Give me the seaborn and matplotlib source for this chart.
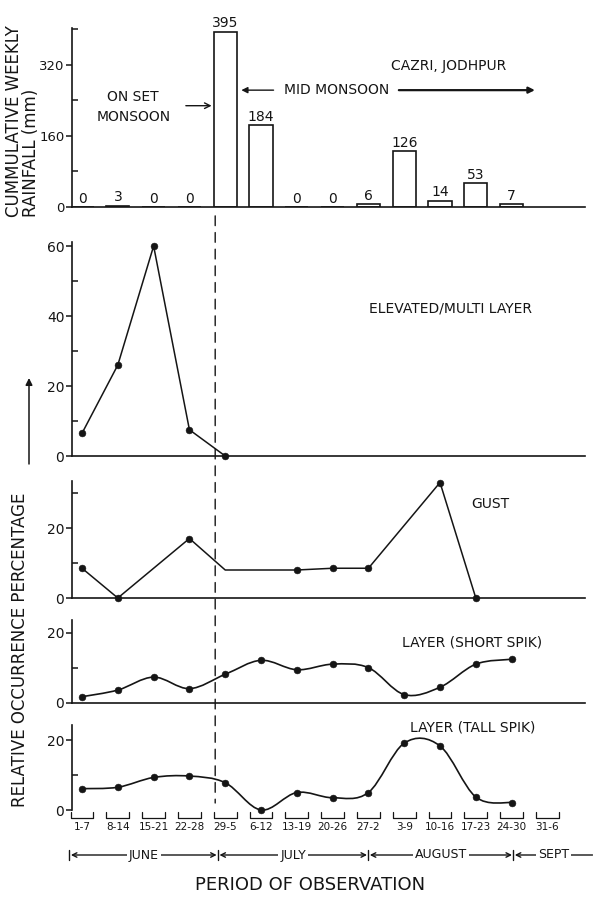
import numpy as np
import pandas as pd
import matplotlib
matplotlib.use("Agg")
import matplotlib.pyplot as plt
from matplotlib.path import Path
from matplotlib.patches import PathPatch, ConnectionPatch
from matplotlib.transforms import blended_transform_factory
import seaborn as sns

# ---------------- data ----------------
weeks = ["1-7", "8-14", "15-21", "22-28", "29-5", "6-12", "13-19",
         "20-26", "27-2", "3-9", "10-16", "17-23", "24-30", "31-6"]
rain_weeks = weeks[:13]
rainfall = [0, 3, 0, 0, 395, 184, 0, 0, 6, 126, 14, 53, 7]
elev_weeks = ["1-7", "8-14", "15-21", "22-28", "29-5"]
elevated = [6.5, 26, 60, 7.5, 0]
gust_weeks = ["1-7", "8-14", "22-28", "29-5", "13-19", "20-26", "27-2", "10-16", "17-23"]
gust = [8.5, 0, 17, 8, 8, 8.5, 8.5, 33, 0]
gust_marked = [True, True, True, False, True, True, True, True, True]
spik_weeks = weeks[:13]
short_spik = [1.8, 3.7, 7.4, 4.1, 8.2, 12.2, 9.5, 11.1, 10.1, 2.4, 4.5, 11.1, 12.5]
tall_spik = [6.1, 6.5, 9.3, 9.7, 7.8, 0, 5.0, 3.5, 5.0, 19.1, 18.3, 3.7, 2.1]
months = ["JUNE", "JULY", "AUGUST", "SEPT"]
month_edges = [-0.35, 3.8, 8.0, 12.05, 14.3]
onset_pos = 3.72

# ---------------- style ----------------
sns.set_style("ticks")
plt.rcParams["font.family"] = ["DejaVu Sans"]
INK = "#151515"
plt.rcParams.update({
    "axes.edgecolor": INK, "axes.linewidth": 1.2,
    "xtick.color": INK, "ytick.color": INK,
    "text.color": INK, "axes.labelcolor": INK,
})

W, H = 593, 906
fig = plt.figure(figsize=(W / 100, H / 100), dpi=100)
fig.patch.set_facecolor("white")

def fx(px):
    return px / W

def fy(px):
    return 1 - px / H

LEFT, RIGHT = 72, 585
XLIM = (-0.28, 14.05)
pos = {w: i for i, w in enumerate(weeks)}

def make_axes(y0_px, ytop, scale):
    h = ytop * scale
    ax = fig.add_axes([fx(LEFT), fy(y0_px), (RIGHT - LEFT) / W, h / H])
    ax.set_ylim(0, ytop)
    ax.set_facecolor("none")
    ax.spines[["top", "right"]].set_visible(False)
    ax.spines["left"].set_bounds(0, ytop)
    return ax

def style_y(ax, major, minor, size=10):
    ax.set_yticks(major)
    ax.set_yticks(minor, minor=True)
    ax.set_yticklabels([str(m) for m in major])
    ax.tick_params(axis="y", which="major", direction="out", length=4, width=1.1,
                   labelsize=size, pad=1.5)
    ax.tick_params(axis="y", which="minor", direction="in", length=4, width=1.1)
    ax.set_xlim(*XLIM)
    ax.set_xlabel("")
    ax.set_ylabel("")

ax1 = make_axes(207, 402, 0.4443)
ax2 = make_axes(456, 61.1, 3.5)
ax3 = make_axes(598, 33.4, 3.5)
ax4 = make_axes(703, 23.7, 3.5)
ax5 = make_axes(810, 24.3, 3.5)

# ---------------- panel 1: rainfall bars ----------------
df_rain = pd.DataFrame({"week": rain_weeks, "rain": rainfall})
sns.barplot(data=df_rain, x="week", y="rain", order=weeks, color="white",
            edgecolor=INK, linewidth=1.2, width=0.65, saturation=1,
            errorbar=None, ax=ax1)
for w, v in zip(rain_weeks, rainfall):
    ax1.annotate(str(v), xy=(pos[w], v), xytext=(0, 1), textcoords="offset points",
                 ha="center", va="bottom", fontsize=10)
style_y(ax1, [0, 160, 320], [80, 240, 400], size=9.5)
ax1.set_xticks([])
ax1.text(10.25, 318, "CAZRI, JODHPUR", ha="center", va="center", fontsize=10)
ax1.text(1.43, 248, "ON SET", ha="center", va="center", fontsize=10)
ax1.text(1.43, 203, "MONSOON", ha="center", va="center", fontsize=10)
ax1.annotate("", xy=(3.62, 228), xytext=(2.9, 228),
             arrowprops=dict(arrowstyle="->", lw=1.0, color=INK, shrinkA=0, shrinkB=0))
ax1.annotate("", xy=(4.45, 263), xytext=(5.35, 263),
             arrowprops=dict(arrowstyle="-|>", lw=1.0, color=INK, shrinkA=0, shrinkB=0,
                             mutation_scale=9))
ax1.text(7.1, 263, "MID MONSOON", ha="center", va="center", fontsize=10)
ax1.annotate("", xy=(12.65, 263), xytext=(8.85, 263),
             arrowprops=dict(arrowstyle="-|>", lw=1.6, color=INK, shrinkA=0, shrinkB=0,
                             mutation_scale=9))

# ---------------- panel 2: elevated / multi layer ----------------
df_elev = pd.DataFrame({"x": [pos[w] for w in elev_weeks], "y": elevated})
sns.lineplot(data=df_elev, x="x", y="y", color=INK, lw=1.1, ax=ax2)
sns.scatterplot(data=df_elev, x="x", y="y", color=INK, s=24, edgecolor=INK,
                zorder=3, clip_on=False, ax=ax2)
style_y(ax2, [0, 20, 40, 60], [10, 30, 50])
ax2.set_xticks([])
ax2.text(10.3, 42, "ELEVATED/MULTI LAYER", ha="center", va="center", fontsize=10)

# ---------------- panel 3: gust ----------------
df_gust = pd.DataFrame({"x": [pos[w] for w in gust_weeks], "y": gust, "m": gust_marked})
sns.lineplot(data=df_gust, x="x", y="y", color=INK, lw=1.1, ax=ax3)
sns.scatterplot(data=df_gust[df_gust["m"]], x="x", y="y", color=INK, s=24,
                edgecolor=INK, zorder=3, clip_on=False, ax=ax3)
style_y(ax3, [0, 20], [10, 30])
ax3.set_xticks([])
ax3.text(11.4, 27, "GUST", ha="center", va="center", fontsize=10)

# ---------------- smooth curve helper ----------------
def smooth_path(xs, ys):
    pts = np.column_stack([xs, ys]).astype(float)
    n = len(pts)
    verts = [pts[0]]
    codes = [Path.MOVETO]
    for i in range(n - 1):
        p0 = pts[i - 1] if i > 0 else pts[i]
        p1, p2 = pts[i], pts[i + 1]
        p3 = pts[i + 2] if i + 2 < n else pts[i + 1]
        verts += [p1 + (p2 - p0) / 6, p2 - (p3 - p1) / 6, p2]
        codes += [Path.CURVE4] * 3
    return Path(verts, codes)

def spik_panel(ax, vals, title, tx, ty):
    xs = [pos[w] for w in spik_weeks]
    ax.add_patch(PathPatch(smooth_path(xs, vals), fill=False, lw=1.2, ec=INK,
                           clip_on=False))
    sns.scatterplot(x=xs, y=vals, color=INK, s=24, edgecolor=INK, zorder=3,
                    clip_on=False, ax=ax)
    style_y(ax, [0, 20], [10])
    ax.text(tx, ty, title, ha="center", va="center", fontsize=10)

spik_panel(ax4, short_spik, "LAYER (SHORT SPIK)", 10.9, 17.2)
ax4.set_xticks([])
spik_panel(ax5, tall_spik, "LAYER (TALL SPIK)", 10.9, 23.6)

# week labels + brackets on bottom panel
ax5.spines["bottom"].set_visible(False)
ax5.set_xticks(range(len(weeks)))
ax5.set_xticklabels(weeks, fontsize=7.5)
ax5.tick_params(axis="x", length=0, pad=9)
for i in range(len(weeks)):
    ax5.plot([i - 0.32, i - 0.32, i + 0.32, i + 0.32], [-0.7, -2.2, -2.2, -0.7],
             color=INK, lw=0.9, clip_on=False)

# ---------------- onset dashed line ----------------
con = ConnectionPatch(xyA=(onset_pos, -20), coordsA=ax1.transData,
                      xyB=(onset_pos, 2), coordsB=ax5.transData,
                      linestyle=(0, (7, 5)), lw=1.0, color=INK)
fig.add_artist(con)

# ---------------- month row ----------------
ym = fy(855)
btr = blended_transform_factory(ax5.transData, fig.transFigure)
for i, m in enumerate(months):
    a, b = month_edges[i], month_edges[i + 1]
    style = "<->" if i < len(months) - 1 else "<-"
    ax5.annotate("", xy=(b, ym), xytext=(a, ym), xycoords=("data", "figure fraction"),
                 textcoords=("data", "figure fraction"), annotation_clip=False,
                 arrowprops=dict(arrowstyle=style, lw=1.0, color=INK,
                                 shrinkA=1, shrinkB=1, mutation_scale=8))
    ax5.text((a + b) / 2, ym, m, transform=btr, ha="center", va="center",
             fontsize=9, bbox=dict(fc="white", ec="none", pad=1.5))
for e in month_edges[:-1]:
    ax5.plot([e, e], [ym - 0.006, ym + 0.006], transform=btr, color=INK, lw=1.0,
             clip_on=False)

fig.text(fx(310), fy(885), "PERIOD OF OBSERVATION", ha="center", va="center",
         fontsize=13)

# ---------------- y-axis titles ----------------
fig.text(fx(14), fy(217), "CUMMULATIVE WEEKLY", rotation=90, ha="center",
         va="bottom", fontsize=12)
fig.text(fx(31), fy(217), "RAINFALL (mm)", rotation=90, ha="center",
         va="bottom", fontsize=12)
fig.text(fx(20), fy(650), "RELATIVE OCCURRENCE PERCENTAGE", rotation=90,
         ha="center", va="center", fontsize=12)
fig.add_artist(ConnectionPatch(xyA=(fx(29), fy(464)), coordsA=fig.transFigure,
                               xyB=(fx(29), fy(378)), coordsB=fig.transFigure,
                               arrowstyle="-|>", lw=1.1, color=INK,
                               mutation_scale=10))

fig.savefig("out.png", dpi=100, facecolor="white")
